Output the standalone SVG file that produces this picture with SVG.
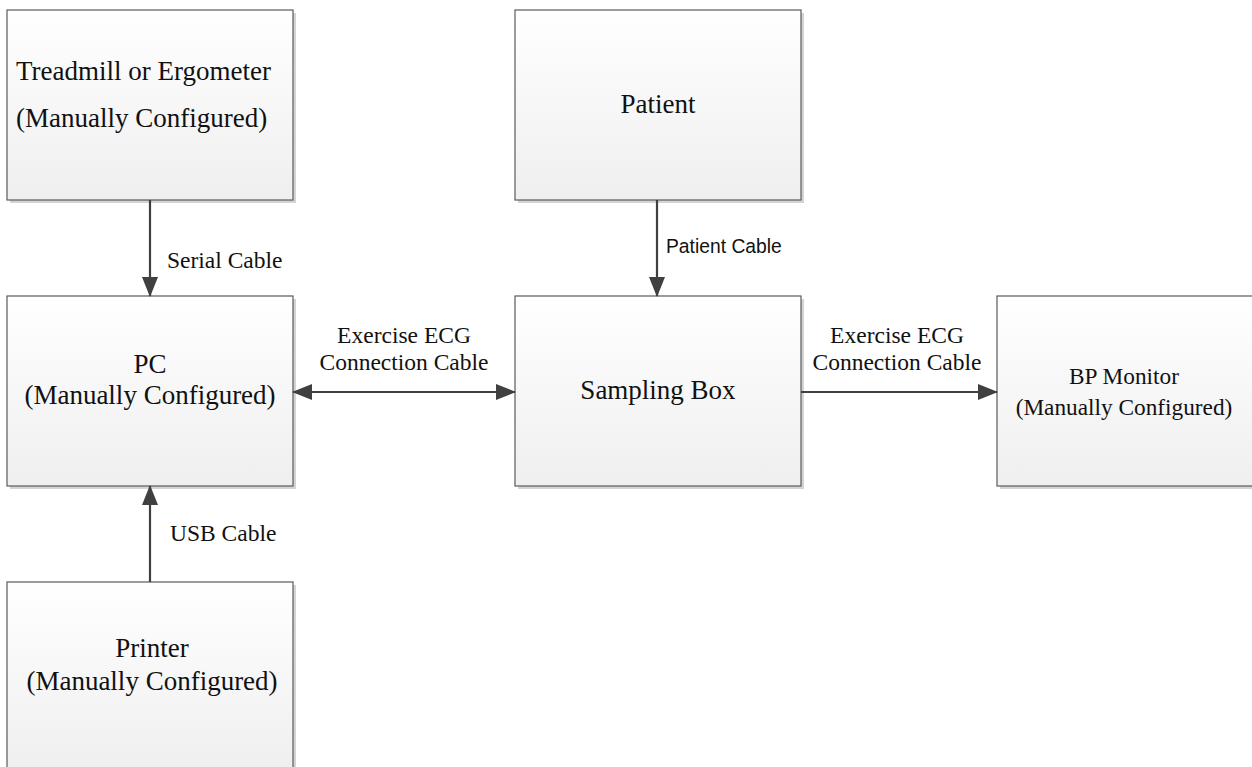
<svg xmlns="http://www.w3.org/2000/svg" width="1252" height="767" viewBox="0 0 1252 767">
<defs>
<linearGradient id="g" x1="0" y1="0" x2="0" y2="1">
<stop offset="0" stop-color="#ffffff"/>
<stop offset="1" stop-color="#efefef"/>
</linearGradient>
<marker id="ah" markerUnits="userSpaceOnUse" markerWidth="20" markerHeight="16" refX="19" refY="8" orient="auto-start-reverse" viewBox="0 0 20 16">
<path d="M0,0 L20,8 L0,16 Z" fill="#404040"/>
</marker>
<style>
.box{fill:url(#g);stroke:#5a5a5a;stroke-width:1.2}
.sh{fill:#d4d4d4}
.nt{font-family:"Liberation Serif","Times New Roman",serif;font-size:27px;fill:#111}
.lt{font-family:"Liberation Serif","Times New Roman",serif;font-size:23.5px;fill:#111}
.st{font-family:"Liberation Sans",Arial,sans-serif;font-size:19.3px;fill:#111}
.cn{fill:none;stroke:#404040;stroke-width:2.2}
</style>
</defs>
<rect width="1252" height="767" fill="#ffffff"/>
<g id="treadmill">
<rect class="sh" x="10" y="13" width="286" height="190"/>
<rect class="box" x="7" y="10" width="286" height="190"/>
<text class="nt" x="16" y="80">Treadmill or Ergometer</text>
<text class="nt" x="16" y="127">(Manually Configured)</text>
</g>
<g id="patient">
<rect class="sh" x="518" y="13" width="286" height="190"/>
<rect class="box" x="515" y="10" width="286" height="190"/>
<text class="nt" x="658" y="113" text-anchor="middle">Patient</text>
</g>
<g id="pc">
<rect class="sh" x="10" y="299" width="286" height="190"/>
<rect class="box" x="7" y="296" width="286" height="190"/>
<text class="nt" x="150" y="373" text-anchor="middle">PC</text>
<text class="nt" x="150" y="404" text-anchor="middle">(Manually Configured)</text>
</g>
<g id="sampling">
<rect class="sh" x="518" y="299" width="286" height="190"/>
<rect class="box" x="515" y="296" width="286" height="190"/>
<text class="nt" x="658" y="399" text-anchor="middle">Sampling Box</text>
</g>
<g id="bpmonitor">
<rect class="sh" x="1000" y="299" width="286" height="190"/>
<rect class="box" x="997" y="296" width="286" height="190"/>
<text class="nt" x="1124" y="384" text-anchor="middle" style="font-size:23.3px">BP Monitor</text>
<text class="nt" x="1124" y="415" text-anchor="middle" style="font-size:23.3px">(Manually Configured)</text>
</g>
<g id="printer">
<rect class="sh" x="10" y="585" width="286" height="190"/>
<rect class="box" x="7" y="582" width="286" height="190"/>
<text class="nt" x="152" y="657" text-anchor="middle">Printer</text>
<text class="nt" x="152" y="690" text-anchor="middle">(Manually Configured)</text>
</g>
<g id="connectors">
<line class="cn" x1="150" y1="200" x2="150" y2="296" marker-end="url(#ah)"/>
<line class="cn" x1="657" y1="200" x2="657" y2="296" marker-end="url(#ah)"/>
<line class="cn" x1="293" y1="392" x2="515" y2="392" marker-start="url(#ah)" marker-end="url(#ah)"/>
<line class="cn" x1="801" y1="392" x2="997" y2="392" marker-end="url(#ah)"/>
<line class="cn" x1="150" y1="582" x2="150" y2="486" marker-end="url(#ah)"/>
<text class="lt" x="167" y="268">Serial Cable</text>
<text class="st" x="666" y="253">Patient Cable</text>
<text class="lt" x="404" y="343" text-anchor="middle">Exercise ECG</text>
<text class="lt" x="404" y="370" text-anchor="middle">Connection Cable</text>
<text class="lt" x="897" y="343" text-anchor="middle">Exercise ECG</text>
<text class="lt" x="897" y="370" text-anchor="middle">Connection Cable</text>
<text class="lt" x="170" y="541">USB Cable</text>
</g>
</svg>
